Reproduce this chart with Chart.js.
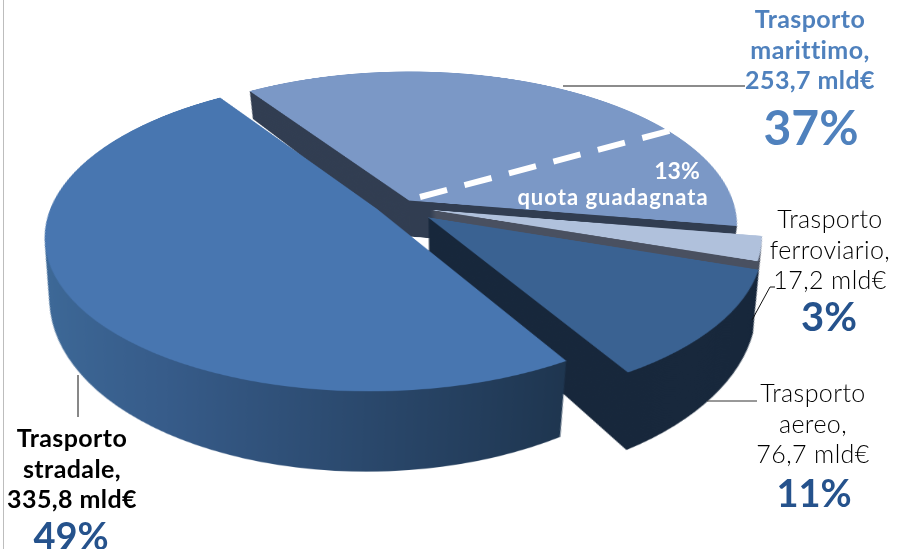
<!DOCTYPE html>
<html lang="it">
<head>
<meta charset="utf-8">
<title>Trasporto</title>
<script src="https://cdn.jsdelivr.net/npm/chart.js@4/dist/chart.umd.min.js"></script>
<style>
  html, body { margin: 0; padding: 0; background: #fff; }
  #page { position: relative; width: 897px; height: 549px; overflow: hidden; background: #fff; font-family: Lato, sans-serif; }
  #edge { position: absolute; left: 3px; top: 0; width: 1px; height: 549px; background: #bdbdbd; }
  #myChart { position: absolute; left: -85px; top: -293px; transform-origin: 500px 500px; transform: perspective(1770px) rotateX(62.2deg); }
  #lines { position: absolute; left: 0; top: 0; }
  .lbl { position: absolute; transform: translate(-50%, -50%); white-space: nowrap; text-align: center; }
  .name { font-size: 25px; line-height: 30.5px; letter-spacing: 0.4px; font-weight: 300; color: #000; }
  .name.bold { font-weight: 700; }
  .bold { font-weight: 700; }
  .pct { font-size: 38px; font-weight: 700; line-height: 52px; color: #25528c; }
</style>
</head>
<body>
<div id="page">
  <div id="edge"></div>
  <canvas id="myChart" width="1000" height="1000"></canvas>
  <svg id="lines" width="897" height="549">
    <line x1="420" y1="197" x2="680" y2="128" stroke="#fff" stroke-width="6" stroke-dasharray="28 18"/>
    <polyline points="563,86 745,86" fill="none" stroke="#666" stroke-width="1.5"/>
    <polyline points="752,320 770,287 775,287" fill="none" stroke="#111" stroke-width="1"/>
    <polyline points="707,401 757,401" fill="none" stroke="#333" stroke-width="1"/>
    <polyline points="78,375 78,417" fill="none" stroke="#111" stroke-width="1"/>
  </svg>
  <div class="lbl name bold" style="left:810px;top:49px;color:#4f81bd">Trasporto<br>marittimo,<br>253,7 mld€</div>
  <div class="lbl pct" style="left:811px;top:127px;font-size:48px;color:#4f81bd">37%</div>
  <div class="lbl name" style="left:830px;top:249px">Trasporto<br>ferroviario,<br>17,2 mld€</div>
  <div class="lbl pct" style="left:829px;top:316px;font-size:40px">3%</div>
  <div class="lbl name" style="left:813px;top:423px">Trasporto<br>aereo,<br>76,7 mld€</div>
  <div class="lbl pct" style="left:814px;top:492px">11%</div>
  <div class="lbl name bold" style="left:72px;top:468px">Trasporto<br>stradale,<br>335,8 mld€</div>
  <div class="lbl pct" style="left:71px;top:535px">49%</div>
  <div class="lbl bold" style="left:677px;top:170px;font-size:23px;color:#fff">13%</div>
  <div class="lbl bold" style="left:613px;top:196px;font-size:22px;letter-spacing:1px;color:#fff">quota guadagnata</div>
</div>
<script>
const categories = ["Trasporto stradale", "Trasporto marittimo", "Trasporto ferroviario", "Trasporto aereo"];
const values = [335.8, 253.7, 17.2, 76.7]; // mld€
const topColors = ["#4876b0", "#7b98c6", "#b0c1dc", "#3a6292"];
const wallColors = [null, "#323e52", "#4a5161", "#18283c"];
const drawOrder = [1, 2, 3, 0]; // back to front
const sliceShift = [[-38, 4], [-6, -14], [15, 6], [13, 22]];
const wallDepth = [112, 75, 110, 112];
const wallNarrowing = 0.0007;

// draws the slices one by one, each with its side wall under it
const pie3d = {
  id: "pie3d",
  beforeDatasetsDraw(chart) {
    const ctx = chart.ctx;
    const arcs = chart.getDatasetMeta(0).data;
    const roadWall = ctx.createLinearGradient(110, 0, 720, 0);
    roadWall.addColorStop(0, "#41709f");
    roadWall.addColorStop(0.35, "#375c8a");
    roadWall.addColorStop(1, "#1b3047");

    drawOrder.forEach((i) => {
      const arc = arcs[i];
      const topOptions = arc.options;
      ctx.save();
      ctx.translate(sliceShift[i][0], sliceShift[i][1]);
      arc.options = Object.assign(Object.create(topOptions), {
        backgroundColor: wallColors[i] || roadWall,
      });
      for (let d = wallDepth[i]; d > 0; d--) {
        ctx.save();
        ctx.translate(arc.x, d);
        ctx.scale(1 - d * wallNarrowing, 1);
        ctx.translate(-arc.x, 0);
        arc.draw(ctx);
        ctx.restore();
      }
      arc.options = topOptions;
      arc.draw(ctx);
      ctx.restore();
    });
    return false;
  },
};

new Chart(document.getElementById("myChart"), {
  type: "pie",
  plugins: [pie3d],
  data: {
    labels: categories,
    datasets: [{ data: values, backgroundColor: topColors, borderWidth: 0 }],
  },
  options: {
    responsive: false,
    devicePixelRatio: 2,
    animation: false,
    rotation: 149,
    radius: 326,
    plugins: { legend: { display: false }, tooltip: { enabled: false } },
  },
});
</script>
</body>
</html>
